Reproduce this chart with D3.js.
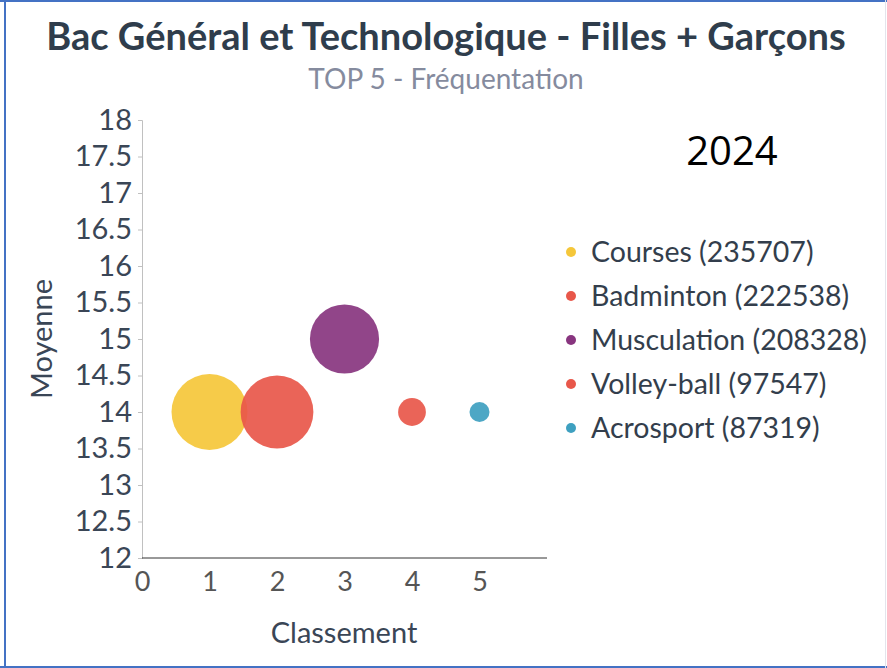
<!DOCTYPE html>
<html>
<head>
<meta charset="utf-8">
<script src="https://cdn.jsdelivr.net/npm/d3@7"></script>
<style>
  body { margin: 0; background: #fff; }
  svg text { font-family: Lato, "Open Sans", sans-serif; }
</style>
</head>
<body>
<div id="chart"></div>
<script>
// donnees du graphique
var sports = ["Courses", "Badminton", "Musculation", "Volley-ball", "Acrosport"]
var classement = [1, 2, 3, 4, 5]
var moyenne = [14, 14, 15, 14, 14]
var frequentation = [235707, 222538, 208328, 97547, 87319]
var couleurs = ["#f5c73a", "#e8574a", "#88357f", "#e8574a", "#3ea0c0"]
var xTicks = [0, 1, 2, 3, 4, 5]
var yTicks = [12, 12.5, 13, 13.5, 14, 14.5, 15, 15.5, 16, 16.5, 17, 17.5, 18]

var width = 887, height = 668

var svg = d3.select("#chart")
  .append("svg")
  .attr("width", width)
  .attr("height", height)

// cadre
svg.append("rect")
  .attr("x", 0).attr("y", 0).attr("width", width).attr("height", height)
  .attr("fill", "#fff")
svg.append("line").attr("x1", 0).attr("x2", width).attr("y1", 1).attr("y2", 1)
  .attr("stroke", "#4472c4").attr("stroke-width", 2)
svg.append("line").attr("x1", 0).attr("x2", width).attr("y1", 667).attr("y2", 667)
  .attr("stroke", "#4472c4").attr("stroke-width", 2)
svg.append("line").attr("x1", 5).attr("x2", 5).attr("y1", 0).attr("y2", height)
  .attr("stroke", "#4472c4").attr("stroke-width", 2)
svg.append("line").attr("x1", 885.5).attr("x2", 885.5).attr("y1", 0).attr("y2", height)
  .attr("stroke", "#e4e4ec").attr("stroke-width", 1)

// titres
svg.append("text")
  .attr("x", 446).attr("y", 50)
  .attr("text-anchor", "middle")
  .attr("font-size", 38).attr("font-weight", "bold")
  .attr("fill", "#2f3d4c")
  .text("Bac Général et Technologique - Filles + Garçons")

svg.append("text")
  .attr("x", 446).attr("y", 89)
  .attr("text-anchor", "middle")
  .attr("font-size", 28)
  .attr("fill", "#858b9e")
  .text("TOP 5 - Fréquentation")

svg.append("text")
  .attr("x", 732).attr("y", 165)
  .attr("text-anchor", "middle")
  .attr("font-size", 40)
  .attr("fill", "#000")
  .style("font-family", "'Open Sans', sans-serif")
  .text("2024")

var x = d3.scaleLinear().domain([0, 6]).range([142, 547])
var y = d3.scaleLinear().domain([12, 18]).range([558, 120])
var r = d3.scaleRadial()
  .domain([d3.min(frequentation), d3.max(frequentation)])
  .range([10, 38])

// axe y
var yAxis = svg.append("g")
  .attr("transform", "translate(142,0)")
  .call(d3.axisLeft(y).tickValues(yTicks).tickSize(4).tickPadding(6).tickFormat(d3.format("")))
yAxis.select(".domain").attr("stroke", "#c0c0c0")
yAxis.selectAll(".tick line").attr("stroke", "#c0c0c0")
yAxis.selectAll(".tick text")
  .attr("font-size", 29).attr("fill", "#3a4656")

// axe x
var xAxis = svg.append("g")
  .attr("transform", "translate(0,558)")
  .call(d3.axisBottom(x).tickValues(xTicks).tickSize(0).tickPadding(14).tickFormat(d3.format("d")))
xAxis.select(".domain").attr("stroke", "#333").attr("d", "M142,0H547")
xAxis.selectAll(".tick text")
  .attr("font-size", 27).attr("fill", "#555")

svg.append("text")
  .attr("x", 344).attr("y", 643)
  .attr("text-anchor", "middle")
  .attr("font-size", 29).attr("fill", "#3a4656")
  .text("Classement")

svg.append("text")
  .attr("transform", "translate(52,339) rotate(-90)")
  .attr("text-anchor", "middle")
  .attr("font-size", 29).attr("fill", "#3a4656")
  .text("Moyenne")

// bulles
var data = sports.map(function(s, i) {
  return { name: s, x: classement[i], y: moyenne[i], z: frequentation[i], c: couleurs[i] }
})

svg.append("g")
  .selectAll("circle")
  .data(data)
  .enter()
  .append("circle")
  .attr("cx", function(d) { return x(d.x) })
  .attr("cy", function(d) { return y(d.y) })
  .attr("r", function(d) { return r(d.z) })
  .attr("fill", function(d) { return d.c })
  .attr("fill-opacity", 0.92)

// legende
var legend = svg.append("g")
  .selectAll("g")
  .data(data)
  .enter()
  .append("g")
  .attr("transform", function(d, i) { return "translate(571," + (252 + i * 44) + ")" })

legend.append("circle")
  .attr("r", 5)
  .attr("fill", function(d) { return d.c })

legend.append("text")
  .attr("x", 20).attr("dy", "0.35em")
  .attr("font-size", 28.5).attr("fill", "#333e4c")
  .text(function(d) { return d.name + " (" + d.z + ")" })
</script>
</body>
</html>
